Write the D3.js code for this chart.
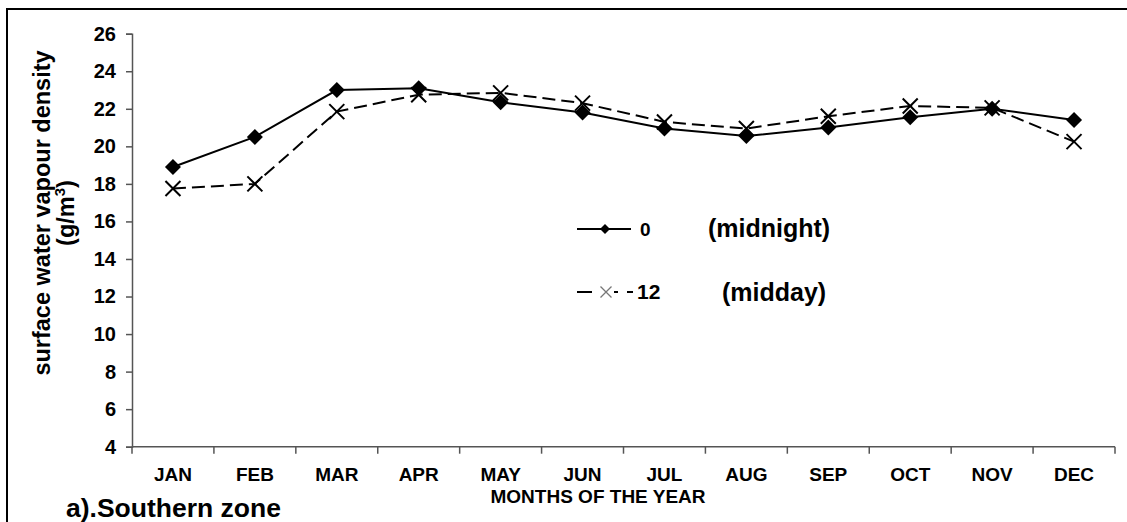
<!DOCTYPE html>
<html>
<head>
<meta charset="utf-8">
<script src="https://cdn.jsdelivr.net/npm/d3@7"></script>
<style>
  html, body { margin: 0; padding: 0; background: #fff; }
  svg text { font-family: Arial, "Liberation Sans", sans-serif; font-weight: bold; fill: #000; }
</style>
</head>
<body>
<svg id="chart" width="1127" height="522"></svg>
<script>
// Monthly surface water vapour density (g/m³), southern zone
const months = ["JAN","FEB","MAR","APR","MAY","JUN","JUL","AUG","SEP","OCT","NOV","DEC"];
const midnight = [18.9, 20.5, 23.0, 23.1, 22.35, 21.8, 20.95, 20.55, 21.0, 21.55, 22.0, 21.4];
const midday   = [17.75, 18.0, 21.85, 22.75, 22.85, 22.3, 21.3, 20.95, 21.6, 22.15, 22.05, 20.25];
const yTicks = [4, 6, 8, 10, 12, 14, 16, 18, 20, 22, 24, 26];

const svg = d3.select("#chart");

// outer frame
svg.append("rect")
  .attr("x", 7).attr("y", 9)
  .attr("width", 1140).attr("height", 540)
  .attr("fill", "none").attr("stroke", "#000").attr("stroke-width", 2);

const plot = { left: 132, right: 1115, top: 33.7, bottom: 446.7 };

const x = d3.scaleBand().domain(months).range([plot.left, plot.right]).padding(0);
const y = d3.scaleLinear().domain([4, 26]).range([plot.bottom, plot.top]);

// y axis
const yAxis = svg.append("g")
  .attr("transform", `translate(${plot.left},0)`)
  .call(d3.axisLeft(y).tickValues(yTicks).tickSize(6).tickPadding(10).tickFormat(d3.format("d")));
yAxis.select(".domain").attr("stroke", "#555").attr("stroke-width", 1.5);
yAxis.selectAll(".tick line").attr("stroke", "#555").attr("stroke-width", 1.5);
yAxis.selectAll(".tick text").attr("font-size", 20).attr("font-weight", "bold")
  .attr("font-family", "Arial, 'Liberation Sans', sans-serif").attr("fill", "#000");

// x axis: ticks sit on the band boundaries
const xAxisG = svg.append("g").attr("transform", `translate(0,${plot.bottom})`);
xAxisG.append("line")
  .attr("x1", plot.left).attr("x2", plot.right)
  .attr("stroke", "#555").attr("stroke-width", 1.5);
const bounds = months.map(m => x(m)).concat([x(months[months.length - 1]) + x.bandwidth()]);
xAxisG.selectAll("line.tk").data(bounds).join("line").attr("class", "tk")
  .attr("x1", d => d).attr("x2", d => d).attr("y1", 0).attr("y2", 7)
  .attr("stroke", "#555").attr("stroke-width", 1.5);
xAxisG.selectAll("text.mo").data(months).join("text").attr("class", "mo")
  .attr("x", d => x(d) + x.bandwidth() / 2).attr("y", 34)
  .attr("text-anchor", "middle").attr("font-size", 19).text(d => d);

// axis titles
svg.append("text")
  .attr("transform", `translate(50,213) rotate(-90)`)
  .attr("text-anchor", "middle").attr("font-size", 23.5)
  .text("surface water vapour density");
const unit = svg.append("text")
  .attr("transform", `translate(74,213) rotate(-90)`)
  .attr("text-anchor", "middle").attr("font-size", 23.5);
unit.append("tspan").text("(g/m");
unit.append("tspan").attr("font-size", 15).attr("dy", -9).text("3");
unit.append("tspan").attr("dy", 9).text(")");

svg.append("text").attr("x", 598).attr("y", 503)
  .attr("text-anchor", "middle").attr("font-size", 19)
  .text("MONTHS OF THE YEAR");

svg.append("text").attr("x", 66).attr("y", 517)
  .attr("font-size", 26.5).text("a).Southern zone");

// series
const cx = (d, i) => x(months[i]) + x.bandwidth() / 2;
const line = d3.line().x(cx).y(d => y(d));

svg.append("path").datum(midday)
  .attr("d", line).attr("fill", "none")
  .attr("stroke", "#000").attr("stroke-width", 2).attr("stroke-dasharray", "13,6");
svg.append("path").datum(midnight)
  .attr("d", line).attr("fill", "none")
  .attr("stroke", "#000").attr("stroke-width", 2);

const diamond = s => `M0,${-s}L${s},0L0,${s}L${-s},0Z`;
const cross = s => `M${-s},${-s}L${s},${s}M${-s},${s}L${s},${-s}`;

svg.selectAll("path.dmd").data(midnight).join("path").attr("class", "dmd")
  .attr("transform", (d, i) => `translate(${cx(d, i)},${y(d)})`)
  .attr("d", diamond(8)).attr("fill", "#000");
svg.selectAll("path.crs").data(midday).join("path").attr("class", "crs")
  .attr("transform", (d, i) => `translate(${cx(d, i)},${y(d)})`)
  .attr("d", cross(7.5)).attr("fill", "none").attr("stroke", "#000").attr("stroke-width", 2);

// legend
const lg = svg.append("g");
lg.append("line").attr("x1", 577).attr("x2", 631).attr("y1", 229).attr("y2", 229)
  .attr("stroke", "#000").attr("stroke-width", 2);
lg.append("path").attr("transform", "translate(605,229)").attr("d", diamond(5)).attr("fill", "#000");
lg.append("text").attr("x", 640).attr("y", 236).attr("font-size", 19).text("0");
lg.append("text").attr("x", 708).attr("y", 237).attr("font-size", 25).text("(midnight)");

lg.append("line").attr("x1", 577).attr("x2", 633).attr("y1", 292).attr("y2", 292)
  .attr("stroke", "#000").attr("stroke-width", 2).attr("stroke-dasharray", "15,22,4,9,6,50");
lg.append("path").attr("transform", "translate(606,292)").attr("d", cross(5.5))
  .attr("fill", "none").attr("stroke", "#777").attr("stroke-width", 1.3);
lg.append("text").attr("x", 637).attr("y", 299).attr("font-size", 21).text("12");
lg.append("text").attr("x", 722).attr("y", 301).attr("font-size", 25).text("(midday)");
</script>
</body>
</html>
